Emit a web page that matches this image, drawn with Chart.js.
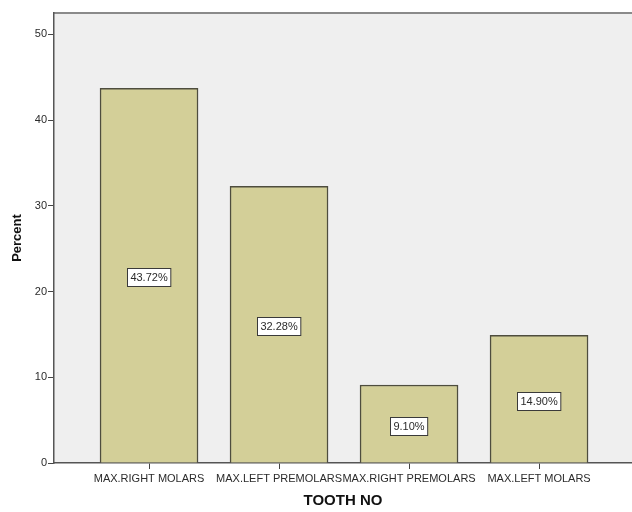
<!DOCTYPE html>
<html>
<head>
<meta charset="utf-8">
<script src="https://cdn.jsdelivr.net/npm/chart.js@4"></script>
<style>
  html, body { margin: 0; padding: 0; background: #ffffff; }
  #wrap { width: 632px; height: 512px; }
</style>
</head>
<body>
<div id="wrap"><canvas id="c" width="632" height="512"></canvas></div>
<script>
// Tooth groups and their share of cases (percent)
const categories = ['MAX.RIGHT MOLARS', 'MAX.LEFT PREMOLARS', 'MAX.RIGHT PREMOLARS', 'MAX.LEFT MOLARS'];
const percents = [43.72, 32.28, 9.10, 14.90];
const yTicks = [0, 10, 20, 30, 40, 50];

const FONT = '"Liberation Sans", Arial, Helvetica, sans-serif';
const INK = '#2b2b2b';

// Plot panel: grey fill plus a top rule
const panel = {
  id: 'panel',
  beforeDraw(chart) {
    const { ctx, chartArea: a } = chart;
    ctx.save();
    ctx.fillStyle = '#efefef';
    ctx.fillRect(a.left, a.top, a.right - a.left, a.bottom - a.top);
    ctx.strokeStyle = '#8a8a8a';
    ctx.lineWidth = 2;
    ctx.beginPath();
    ctx.moveTo(a.left, a.top);
    ctx.lineTo(a.right, a.top);
    ctx.stroke();
    ctx.restore();
  }
};

// Boxed percentage labels at the middle of each bar
const boxedLabels = {
  id: 'boxedLabels',
  afterDatasetsDraw(chart) {
    const { ctx } = chart;
    const meta = chart.getDatasetMeta(0);
    ctx.save();
    ctx.font = '11px ' + FONT;
    ctx.textAlign = 'center';
    ctx.textBaseline = 'middle';
    meta.data.forEach((bar, i) => {
      const text = percents[i].toFixed(2) + '%';
      const cy = (bar.y + bar.base) / 2 + 2;
      const w = ctx.measureText(text).width + 6;
      const h = 18;
      const x0 = Math.round(bar.x - w / 2) + 0.5;
      const y0 = Math.round(cy - h / 2) + 0.5;
      ctx.fillStyle = '#ffffff';
      ctx.fillRect(x0, y0, w, h);
      ctx.strokeStyle = '#3a3a3a';
      ctx.lineWidth = 1;
      ctx.strokeRect(x0, y0, w, h);
      ctx.fillStyle = INK;
      ctx.fillText(text, bar.x, cy + 1);
    });
    ctx.restore();
  }
};

new Chart(document.getElementById('c'), {
  type: 'bar',
  data: {
    datasets: [{
      data: percents.map((v, i) => ({ x: i, y: v })),
      backgroundColor: '#d3cf98',
      borderColor: '#4e4d3e',
      borderWidth: 1.5,
      borderSkipped: 'bottom',
      barThickness: 98
    }]
  },
  options: {
    responsive: false,
    animation: false,
    layout: { padding: { top: 13, right: 0, left: 0, bottom: 0 } },
    plugins: { legend: { display: false }, tooltip: { enabled: false } },
    scales: {
      x: {
        type: 'linear',
        offset: false,
        min: -0.731,
        max: 3.715,
        afterFit: s => { s.height = 49; },
        afterBuildTicks: s => { s.ticks = categories.map((_, i) => ({ value: i })); },
        grid: { offset: false, drawOnChartArea: false, tickLength: 6, color: '#444444', lineWidth: 1 },
        border: { display: true, color: '#555555', width: 1.5 },
        ticks: {
          padding: 3,
          maxRotation: 0,
          autoSkip: false,
          color: INK,
          font: { family: FONT, size: 11 },
          callback: v => categories[v]
        },
        title: {
          display: true,
          text: 'TOOTH NO',
          color: '#111111',
          font: { family: FONT, size: 15, weight: 'bold' },
          padding: { top: 0, bottom: 2 }
        }
      },
      y: {
        min: 0,
        max: 52.5,
        afterFit: s => { s.width = 54; },
        afterBuildTicks: s => { s.ticks = yTicks.map(v => ({ value: v })); },
        grid: { drawOnChartArea: false, tickLength: 6, color: '#444444', lineWidth: 1 },
        border: { display: true, color: '#555555', width: 1.5 },
        ticks: {
          padding: 1,
          color: INK,
          font: { family: FONT, size: 11 }
        },
        title: {
          display: true,
          text: 'Percent',
          color: '#111111',
          font: { family: FONT, size: 13, weight: 'bold' },
          padding: { top: 10, bottom: 0 }
        }
      }
    }
  },
  plugins: [panel, boxedLabels]
});
</script>
</body>
</html>
